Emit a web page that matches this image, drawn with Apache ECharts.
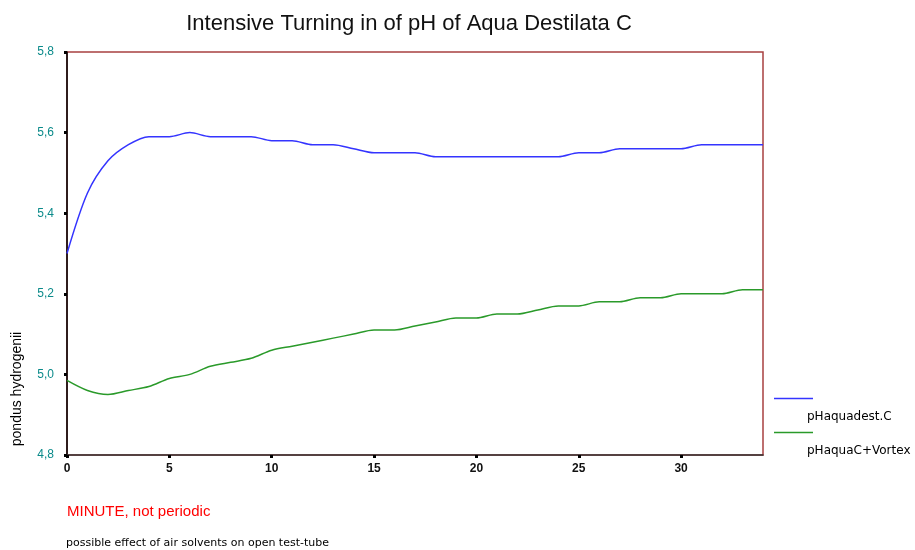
<!DOCTYPE html>
<html>
<head>
<meta charset="utf-8">
<script src="https://cdn.jsdelivr.net/npm/echarts@6/dist/echarts.min.js"></script>
<style>
html,body{margin:0;padding:0;background:#fff;}
#chart{width:915px;height:550px;}
</style>
</head>
<body>
<div id="chart"></div>
<script>
const minutes = [0,1,2,3,4,5,6,7,8,9,10,11,12,13,14,15,16,17,18,19,20,21,22,23,24,25,26,27,28,29,30,31,32,33,34];
const seriesNames = ['pHaquadest.C', 'pHaquaC+Vortex'];
const phAquaDest = [5.30,5.45,5.53,5.57,5.59,5.59,5.60,5.59,5.59,5.59,5.58,5.58,5.57,5.57,5.56,5.55,5.55,5.55,5.54,5.54,5.54,5.54,5.54,5.54,5.54,5.55,5.55,5.56,5.56,5.56,5.56,5.57,5.57,5.57,5.57];
const phAquaVortex = [4.985,4.96,4.95,4.96,4.97,4.99,5.00,5.02,5.03,5.04,5.06,5.07,5.08,5.09,5.10,5.11,5.11,5.12,5.13,5.14,5.14,5.15,5.15,5.16,5.17,5.17,5.18,5.18,5.19,5.19,5.20,5.20,5.20,5.21,5.21];
const xTicks = [0,5,10,15,20,25,30];
const titleText = 'Intensive Turning in of pH of Aqua Destilata C';
const yName = 'pondus hydrogenii';
const xName = 'MINUTE, not periodic';
const noteText = 'possible effect of air solvents on open test-tube';

const colors = ['#3434ff', '#2a9a2a'];
const pairs = arr => minutes.map((m, i) => [m, arr[i]]);

const chart = echarts.init(document.getElementById('chart'), null, {renderer: 'canvas'});
chart.setOption({
  animation: false,
  backgroundColor: '#ffffff',
  title: {
    text: titleText,
    left: 409, top: 13, textAlign: 'center', padding: 0,
    textStyle: {fontFamily: 'Liberation Sans', fontSize: 22, fontWeight: 'normal', color: '#111'}
  },
  grid: {left: 67, top: 52, right: 152, bottom: 95, show: true, borderColor: '#a84040', borderWidth: 1.5, backgroundColor: 'transparent'},
  xAxis: {
    type: 'value', min: 0, max: 34,
    axisLine: {show: true, onZero: false, lineStyle: {color: '#333', width: 1.5}},
    axisTick: {show: true, customValues: xTicks, length: 3, lineStyle: {color: '#000', width: 3}},
    axisLabel: {customValues: xTicks, margin: 8, fontFamily: 'Liberation Sans', fontSize: 12, fontWeight: 'bold', color: '#111'},
    splitLine: {show: false}
  },
  yAxis: {
    type: 'value', min: 4.8, max: 5.8, interval: 0.2,
    axisLine: {show: true, onZero: false, lineStyle: {color: '#000', width: 1.5}},
    axisTick: {show: true, length: 3, lineStyle: {color: '#000', width: 3}},
    axisLabel: {margin: 13, fontFamily: 'Liberation Sans', fontSize: 12, color: '#0a8a8a',
      formatter: v => v.toFixed(1).replace('.', ',')},
    splitLine: {show: false}
  },
  series: [
    {name: seriesNames[0], type: 'line', data: pairs(phAquaDest), showSymbol: false, smooth: 0.3,
     lineStyle: {color: colors[0], width: 1.5}, itemStyle: {color: colors[0]}},
    {name: seriesNames[1], type: 'line', data: pairs(phAquaVortex), showSymbol: false, smooth: 0.3,
     lineStyle: {color: colors[1], width: 1.5}, itemStyle: {color: colors[1]}}
  ],
  graphic: [
    {type: 'text', x: 17, y: 389, rotation: Math.PI / 2,
     style: {text: yName, fontFamily: 'Liberation Sans', fontSize: 14, fill: '#000', textAlign: 'center', textVerticalAlign: 'middle'}},
    {type: 'text', x: 67, y: 512,
     style: {text: xName, fontFamily: 'Liberation Sans', fontSize: 15, fill: '#ff0000', textAlign: 'left', textVerticalAlign: 'middle'}},
    {type: 'text', x: 66, y: 543,
     style: {text: noteText, fontFamily: 'DejaVu Sans', fontSize: 11, fill: '#000', textAlign: 'left', textVerticalAlign: 'middle'}},
    {type: 'line', shape: {x1: 774, y1: 398.5, x2: 813, y2: 398.5}, style: {stroke: colors[0], lineWidth: 1.5}},
    {type: 'text', x: 807, y: 417,
     style: {text: seriesNames[0], fontFamily: 'DejaVu Sans', fontSize: 12, fill: '#000', textAlign: 'left', textVerticalAlign: 'middle'}},
    {type: 'line', shape: {x1: 774, y1: 432.5, x2: 813, y2: 432.5}, style: {stroke: colors[1], lineWidth: 1.5}},
    {type: 'text', x: 807, y: 451,
     style: {text: seriesNames[1], fontFamily: 'DejaVu Sans', fontSize: 12, fill: '#000', textAlign: 'left', textVerticalAlign: 'middle'}}
  ]
});
</script>
</body>
</html>
